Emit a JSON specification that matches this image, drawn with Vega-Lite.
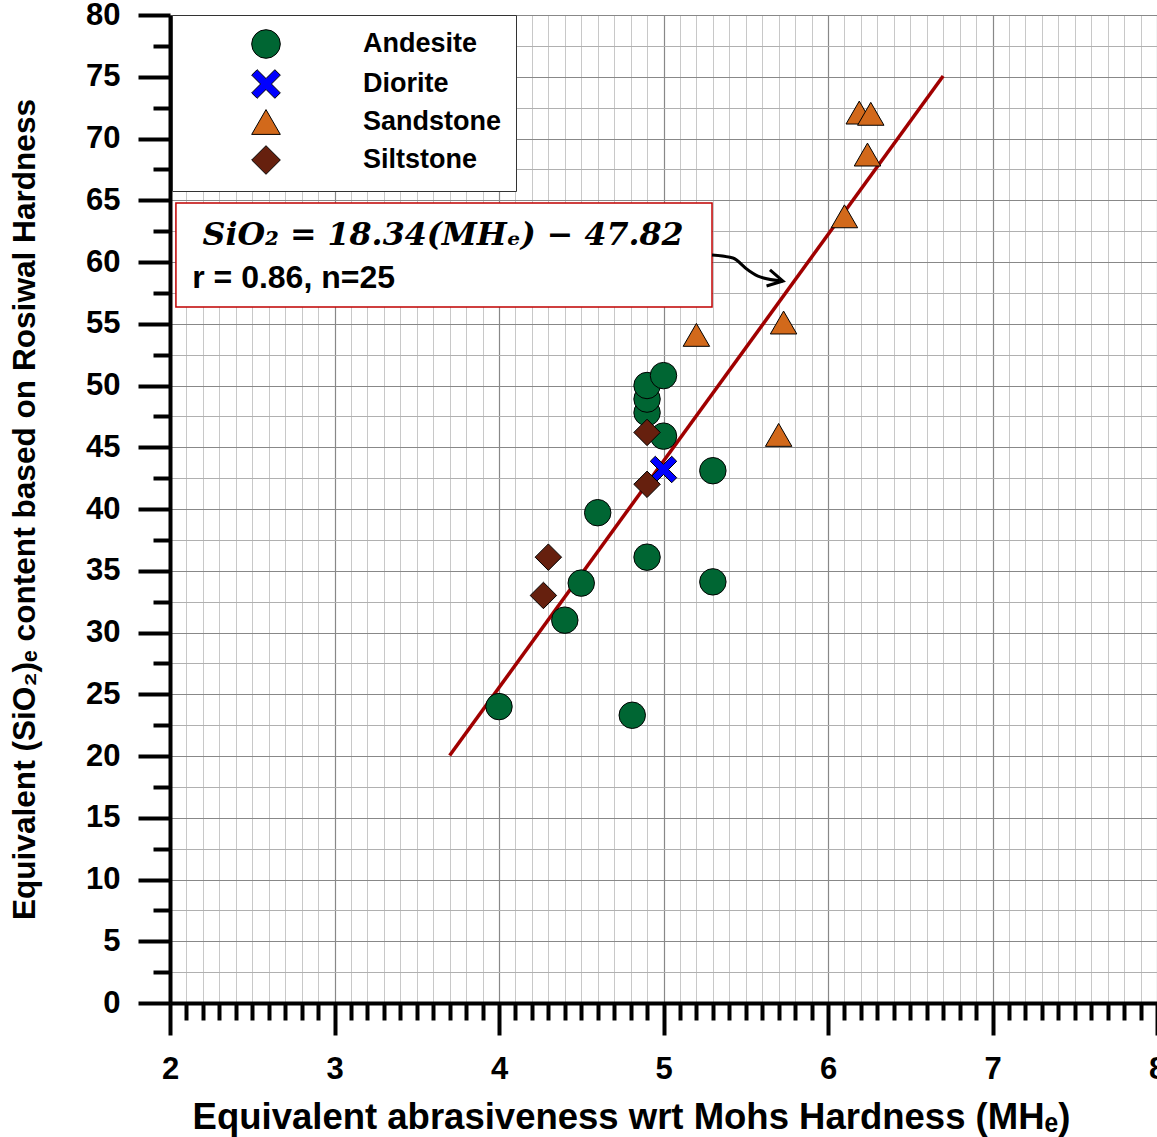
{
  "$schema": "https://vega.github.io/schema/vega-lite/v6.json",
  "width": 987,
  "height": 988,
  "autosize": {"type": "none"},
  "padding": {"left": 170, "top": 15, "right": 0, "bottom": 134},
  "background": "white",
  "config": {
    "view": {"stroke": null},
    "axis": {
      "domainColor": "black", "domainWidth": 4, "tickColor": "black", "tickWidth": 4, "tickCap": "butt", "labelFlush": false, "labelOverlap": false,
      "labelFont": "Liberation Sans", "labelFontWeight": "bold", "labelFontSize": 31, "labelColor": "black",
      "titleFont": "Liberation Sans", "titleFontWeight": "bold", "titleColor": "black"
    }
  },
  "datasets": {
    "points": [
      {"MH": 4.0, "SiO2": 24.0, "Rock": "Andesite"},
      {"MH": 4.81, "SiO2": 23.3, "Rock": "Andesite"},
      {"MH": 4.4, "SiO2": 31.0, "Rock": "Andesite"},
      {"MH": 4.5, "SiO2": 34.0, "Rock": "Andesite"},
      {"MH": 4.6, "SiO2": 39.7, "Rock": "Andesite"},
      {"MH": 4.9, "SiO2": 36.1, "Rock": "Andesite"},
      {"MH": 5.3, "SiO2": 43.1, "Rock": "Andesite"},
      {"MH": 5.3, "SiO2": 34.1, "Rock": "Andesite"},
      {"MH": 5.0, "SiO2": 45.9, "Rock": "Andesite"},
      {"MH": 4.9, "SiO2": 47.8, "Rock": "Andesite"},
      {"MH": 4.9, "SiO2": 48.9, "Rock": "Andesite"},
      {"MH": 4.9, "SiO2": 50.0, "Rock": "Andesite"},
      {"MH": 5.0, "SiO2": 50.8, "Rock": "Andesite"},
      {"MH": 5.0, "SiO2": 43.2, "Rock": "Diorite"},
      {"MH": 5.2, "SiO2": 54.1, "Rock": "Sandstone"},
      {"MH": 5.73, "SiO2": 55.1, "Rock": "Sandstone"},
      {"MH": 5.7, "SiO2": 46.0, "Rock": "Sandstone"},
      {"MH": 6.1, "SiO2": 63.7, "Rock": "Sandstone"},
      {"MH": 6.24, "SiO2": 68.7, "Rock": "Sandstone"},
      {"MH": 6.19, "SiO2": 72.1, "Rock": "Sandstone"},
      {"MH": 6.26, "SiO2": 72.0, "Rock": "Sandstone"},
      {"MH": 4.3, "SiO2": 36.1, "Rock": "Siltstone"},
      {"MH": 4.27, "SiO2": 33.0, "Rock": "Siltstone"},
      {"MH": 4.9, "SiO2": 42.0, "Rock": "Siltstone"},
      {"MH": 4.9, "SiO2": 46.2, "Rock": "Siltstone"}
    ],
    "fit": [{"MH": 3.7, "SiO2": 20.04}, {"MH": 6.7, "SiO2": 75.06}],
    "arrow": [
      {"MH": 5.295, "SiO2": 60.57},
      {"MH": 5.422, "SiO2": 60.32},
      {"MH": 5.514, "SiO2": 59.35},
      {"MH": 5.587, "SiO2": 58.79},
      {"MH": 5.726, "SiO2": 58.46}
    ],
    "label": [{"eq": "SiO₂ = 18.34(MHₑ) − 47.82", "stat": "r = 0.86, n=25"}]
  },
  "layer": [
    {
      "data": {"name": "points"},
      "mark": {"type": "point", "opacity": 0},
      "encoding": {
        "x": {"field": "MH", "type": "quantitative", "scale": {"domain": [2, 8], "nice": false, "zero": false},
          "axis": {"orient": "bottom", "values": [2.1,2.2,2.3,2.4,2.5,2.6,2.7,2.8,2.9,3.1,3.2,3.3,3.4,3.5,3.6,3.7,3.8,3.9,4.1,4.2,4.3,4.4,4.5,4.6,4.7,4.8,4.9,5.1,5.2,5.3,5.4,5.5,5.6,5.7,5.8,5.9,6.1,6.2,6.3,6.4,6.5,6.6,6.7,6.8,6.9,7.1,7.2,7.3,7.4,7.5,7.6,7.7,7.8,7.9],
            "grid": true, "gridColor": "#c8c8c8", "gridWidth": 1, "tickSize": 17, "labels": false, "domain": false, "title": null}},
        "y": {"field": "SiO2", "type": "quantitative", "scale": {"domain": [0, 80], "nice": false, "zero": false},
          "axis": {"orient": "left", "values": [2.5,7.5,12.5,17.5,22.5,27.5,32.5,37.5,42.5,47.5,52.5,57.5,62.5,67.5,72.5,77.5],
            "grid": true, "gridColor": "#b0b0b0", "gridWidth": 1, "tickSize": 17, "labels": false, "domain": false, "title": null}}
      }
    },
    {
      "data": {"name": "fit"},
      "mark": {"type": "line", "color": "#A00000", "strokeWidth": 3.5},
      "encoding": {
        "x": {"field": "MH", "type": "quantitative",
          "axis": {"orient": "bottom", "values": [2,3,4,5,6,7,8], "grid": true, "gridColor": "#888888", "gridWidth": 1.2,
            "tickSize": 32, "labelPadding": 19, "title": "Equivalent abrasiveness wrt Mohs Hardness (MHₑ)",
            "titleFontSize": 36.5, "titleX": 461, "titleY": 125, "titleBaseline": "alphabetic"}},
        "y": {"field": "SiO2", "type": "quantitative",
          "axis": {"orient": "left", "values": [0,5,10,15,20,25,30,35,40,45,50,55,60,65,70,75,80], "grid": true, "gridColor": "#888888", "gridWidth": 1.2,
            "tickSize": 32, "labelPadding": 18, "title": "Equivalent (SiO₂)ₑ content based on Rosiwal Hardness",
            "titleFontSize": 31.6, "titleX": -136, "titleBaseline": "alphabetic"}}
      }
    },
    {
      "data": {"name": "points"},
      "mark": {"type": "point", "filled": true, "size": 700, "stroke": "black", "strokeWidth": 1, "opacity": 1},
      "encoding": {
        "x": {"field": "MH", "type": "quantitative", "axis": null},
        "y": {"field": "SiO2", "type": "quantitative", "axis": null},
        "color": {"field": "Rock", "type": "nominal",
          "scale": {"domain": ["Andesite", "Diorite", "Sandstone", "Siltstone"], "range": ["#006633", "#0000FF", "#D2691B", "#66200E"]},
          "legend": {"title": null, "orient": "none", "legendX": 2, "legendY": 0, "fillColor": "white", "strokeColor": "#333333",
            "padding": 14, "symbolSize": 820, "symbolStrokeColor": "black", "symbolStrokeWidth": 1, "symbolOffset": 65, "labelOffset": 82,
            "rowPadding": 6, "labelFont": "Liberation Sans", "labelFontWeight": "bold", "labelFontSize": 27, "labelColor": "black"}},
        "shape": {"field": "Rock", "type": "nominal",
          "scale": {"domain": ["Andesite", "Diorite", "Sandstone", "Siltstone"],
            "range": ["circle", "M-1,-0.62L-0.62,-1L0,-0.38L0.62,-1L1,-0.62L0.38,0L1,0.62L0.62,1L0,0.38L-0.62,1L-1,0.62L-0.38,0Z", "triangle-up", "diamond"]},
          "legend": {"title": null, "orient": "none", "legendX": 2, "legendY": 0, "fillColor": "white", "strokeColor": "#333333",
            "padding": 14, "symbolSize": 820, "symbolStrokeColor": "black", "symbolStrokeWidth": 1, "symbolOffset": 65, "labelOffset": 82,
            "rowPadding": 6, "labelFont": "Liberation Sans", "labelFontWeight": "bold", "labelFontSize": 27, "labelColor": "black"}}
      }
    },
    {
      "data": {"name": "label"},
      "mark": {"type": "rect", "fill": "white", "stroke": "#C00000", "strokeWidth": 1.5},
      "encoding": {
        "x": {"datum": 2.036, "type": "quantitative", "axis": null},
        "x2": {"datum": 5.295},
        "y": {"datum": 64.78, "type": "quantitative", "axis": null},
        "y2": {"datum": 56.36}
      }
    },
    {
      "data": {"name": "label"},
      "mark": {"type": "text", "font": "DejaVu Serif", "fontStyle": "italic", "fontWeight": "bold", "fontSize": 31.7, "align": "center", "baseline": "alphabetic", "color": "black"},
      "encoding": {
        "x": {"datum": 3.66, "type": "quantitative", "axis": null},
        "y": {"datum": 61.38, "type": "quantitative", "axis": null},
        "text": {"field": "eq"}
      }
    },
    {
      "data": {"name": "label"},
      "mark": {"type": "text", "font": "Liberation Sans", "fontWeight": "bold", "fontSize": 32, "align": "left", "baseline": "alphabetic", "color": "black"},
      "encoding": {
        "x": {"datum": 2.135, "type": "quantitative", "axis": null},
        "y": {"datum": 57.9, "type": "quantitative", "axis": null},
        "text": {"field": "stat"}
      }
    },
    {
      "data": {"name": "arrow"},
      "mark": {"type": "line", "color": "black", "strokeWidth": 3, "interpolate": "monotone"},
      "encoding": {
        "x": {"field": "MH", "type": "quantitative", "axis": null},
        "y": {"field": "SiO2", "type": "quantitative", "axis": null}
      }
    },
    {
      "data": {"values": [{"MH": 5.726, "SiO2": 58.46}]},
      "mark": {"type": "point", "shape": "M-1,-0.55L0,0L-1,0.55", "filled": false, "stroke": "black", "strokeWidth": 3, "size": 900, "angle": 12, "opacity": 1},
      "encoding": {
        "x": {"field": "MH", "type": "quantitative", "axis": null},
        "y": {"field": "SiO2", "type": "quantitative", "axis": null}
      }
    }
  ],
  "resolve": {"axis": {"x": "independent", "y": "independent"}}
}
